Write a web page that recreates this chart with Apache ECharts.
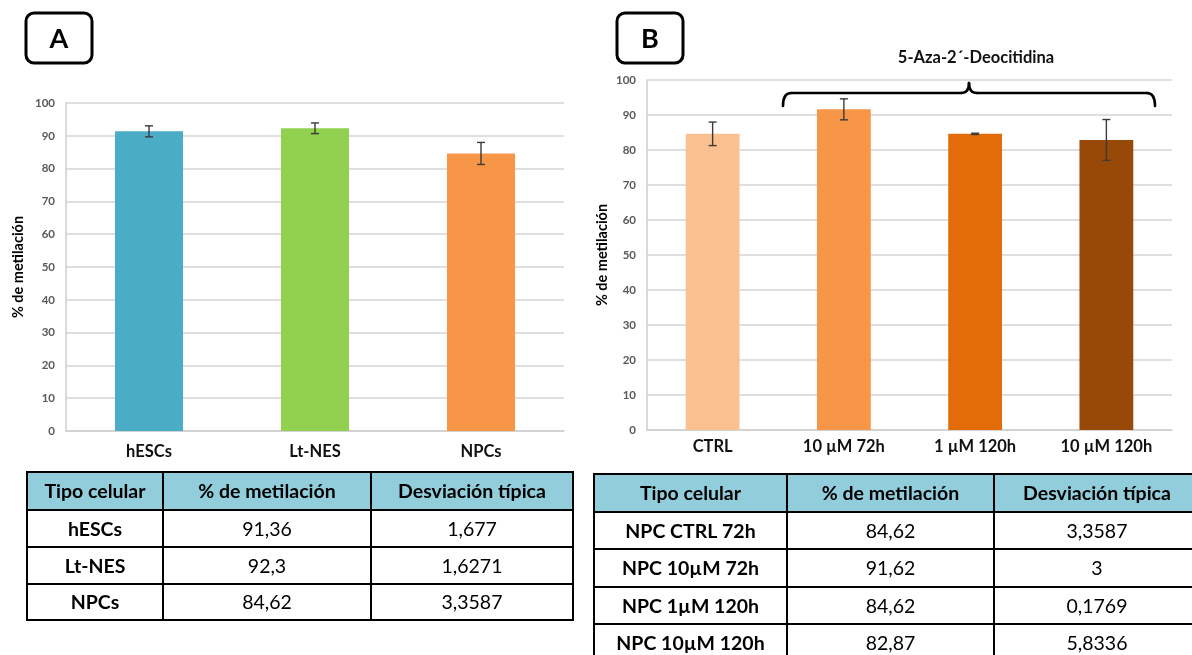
<!DOCTYPE html>
<html>
<head>
<meta charset="utf-8">
<script src="https://cdn.jsdelivr.net/npm/echarts@6/dist/echarts.min.js"></script>
<style>
  html, body { margin: 0; padding: 0; background: #fff; }
  #chart { width: 1192px; height: 655px; }
</style>
</head>
<body>
<div id="chart"></div>
<script>
// Panel A: methylation by cell type
const categoriesA = ['hESCs', 'Lt-NES', 'NPCs'];
const valuesA = [91.36, 92.3, 84.62];
const sdA = [1.677, 1.6271, 3.3587];

// Panel B: NPCs treated with 5-Aza-2'-deoxycytidine
const categoriesB = ['CTRL', '10 µM 72h', '1 µM 120h', '10 µM 120h'];
const valuesB = [84.62, 91.62, 84.62, 82.87];
const sdB = [3.3587, 3, 0.1769, 5.8336];

// Table labels
const tableHeaders = ['Tipo celular', '% de metilación', 'Desviación típica'];
const rowLabelsA = ['hESCs', 'Lt-NES', 'NPCs'];
const rowLabelsB = ['NPC CTRL 72h', 'NPC 10µM 72h', 'NPC 1µM 120h', 'NPC 10µM 120h'];
const treatmentLabel = '5-Aza-2´-Deocitidina';
const yAxisTitle = '% de metilación';
const panelLetters = ['A', 'B'];

// Y axis range
const yMin = 0, yMax = 100, yStep = 10;

// Bar colours
const paletteA = ['#4BACC6', '#92D050', '#F79646'];
const paletteB = ['#FAC090', '#F79646', '#E36C09', '#984807'];

const FONT = 'Lato, "Open Sans", sans-serif';
const fmt = v => String(v).replace('.', ',');

const chart = echarts.init(document.getElementById('chart'), null, { renderer: 'canvas' });

function yAxisCfg(gridIndex, nameGap) {
  return {
    type: 'value', gridIndex, min: yMin, max: yMax, interval: yStep,
    name: yAxisTitle, nameLocation: 'middle', nameRotate: 90, nameGap,
    nameTextStyle: { fontFamily: FONT, fontWeight: 'bold', fontSize: 14.5, color: '#000' },
    axisLine: { show: true, lineStyle: { color: '#CFCFCF', width: 1.5 } },
    axisTick: { show: false },
    axisLabel: { fontFamily: FONT, fontWeight: 'bold', fontSize: 11.5, color: '#595959', margin: 11 },
    splitLine: { lineStyle: { color: '#D4D4D4', width: 1.5 } }
  };
}
function xAxisCfg(gridIndex, cats, margin) {
  return {
    type: 'category', gridIndex, data: cats,
    axisLine: { lineStyle: { color: '#CFCFCF', width: 1.5 } },
    axisTick: { show: false },
    axisLabel: { fontFamily: FONT, fontWeight: 'bold', fontSize: 16.5, color: '#111', margin }
  };
}
function barSeries(idx, values, palette) {
  return {
    type: 'bar', xAxisIndex: idx, yAxisIndex: idx, barWidth: '41%',
    data: values.map((v, i) => ({ value: v, itemStyle: { color: palette[i] } })),
    silent: true
  };
}
function errorSeries(idx, values, sds) {
  return {
    type: 'custom', xAxisIndex: idx, yAxisIndex: idx, silent: true, z: 5,
    data: values.map((v, i) => [i, v - sds[i], v + sds[i]]),
    renderItem: function (params, api) {
      const lo = api.coord([api.value(0), api.value(1)]);
      const hi = api.coord([api.value(0), api.value(2)]);
      const x = lo[0], w = 4;
      const st = { stroke: '#3A3A3A', lineWidth: 1.4 };
      return {
        type: 'group',
        children: [
          { type: 'line', shape: { x1: x, y1: lo[1], x2: x, y2: hi[1] }, style: st },
          { type: 'line', shape: { x1: x - w, y1: lo[1], x2: x + w, y2: lo[1] }, style: st },
          { type: 'line', shape: { x1: x - w, y1: hi[1], x2: x + w, y2: hi[1] }, style: st }
        ]
      };
    }
  };
}

// Table drawn with graphic elements
function tableGraphic(cols, rows, headers, body) {
  const els = [];
  const last = cols.length - 1;
  els.push({ type: 'rect', shape: { x: cols[0], y: rows[0], width: cols[last] - cols[0], height: rows[1] - rows[0] },
             style: { fill: '#92CDDC' } });
  const txt = (s, x, y, bold) => ({
    type: 'text', x, y,
    style: { text: s, font: (bold ? 'bold ' : '') + '19.5px ' + FONT, fill: '#000',
             align: 'center', verticalAlign: 'middle', textAlign: 'center', textVerticalAlign: 'middle' }
  });
  headers.forEach((h, c) => els.push(txt(h, (cols[c] + cols[c + 1]) / 2, (rows[0] + rows[1]) / 2 + 1, true)));
  body.forEach((row, r) => row.forEach((cell, c) =>
    els.push(txt(cell, (cols[c] + cols[c + 1]) / 2, (rows[r + 1] + rows[r + 2]) / 2 + 1, c === 0))));
  rows.forEach(y => els.push({ type: 'line', shape: { x1: cols[0] - 1, y1: y, x2: cols[last] + 1, y2: y },
                               style: { stroke: '#000', lineWidth: 2 } }));
  cols.forEach(x => els.push({ type: 'line', shape: { x1: x, y1: rows[0], x2: x, y2: rows[rows.length - 1] },
                               style: { stroke: '#000', lineWidth: 2 } }));
  return els;
}

function letterBox(x, y, letter) {
  return [
    { type: 'rect', shape: { x, y, width: 66, height: 50, r: 8 },
      style: { fill: '#fff', stroke: '#000', lineWidth: 3 } },
    { type: 'text', x: x + 33, y: y + 26,
      style: { text: letter, font: 'bold 27px ' + FONT, fill: '#000',
               align: 'center', verticalAlign: 'middle', textAlign: 'center', textVerticalAlign: 'middle' } }
  ];
}

// Curly bracket spanning the treated groups
function bracket(x0, x1, yTop, yEnd, yTip) {
  const xm = (x0 + x1) / 2, r = 8;
  const st = { fill: null, stroke: '#000', lineWidth: 2.6, lineCap: 'round' };
  return [
    { type: 'bezierCurve', shape: { x1: x0, y1: yEnd, cpx1: x0, cpy1: yTop, x2: x0 + r, y2: yTop }, style: st },
    { type: 'line', shape: { x1: x0 + r, y1: yTop, x2: xm - r, y2: yTop }, style: st },
    { type: 'bezierCurve', shape: { x1: xm - r, y1: yTop, cpx1: xm, cpy1: yTop, x2: xm, y2: yTip }, style: st },
    { type: 'bezierCurve', shape: { x1: xm, y1: yTip, cpx1: xm, cpy1: yTop, x2: xm + r, y2: yTop }, style: st },
    { type: 'line', shape: { x1: xm + r, y1: yTop, x2: x1 - r, y2: yTop }, style: st },
    { type: 'bezierCurve', shape: { x1: x1 - r, y1: yTop, cpx1: x1, cpy1: yTop, x2: x1, y2: yEnd }, style: st }
  ];
}

const bodyA = rowLabelsA.map((l, i) => [l, fmt(valuesA[i]), fmt(sdA[i])]);
const bodyB = rowLabelsB.map((l, i) => [l, fmt(valuesB[i]), fmt(sdB[i])]);

const graphics = [].concat(
  letterBox(26, 13, panelLetters[0]),
  letterBox(617, 13, panelLetters[1]),
  [
    { type: 'text', x: 976, y: 58,
      style: { text: treatmentLabel, font: 'bold 16.5px ' + FONT, fill: '#111',
               align: 'center', verticalAlign: 'middle', textAlign: 'center', textVerticalAlign: 'middle' } }
  ],
  bracket(783, 1155, 93, 106, 83),
  tableGraphic([27, 163, 371, 573], [472, 510, 547, 584, 620], tableHeaders, bodyA),
  tableGraphic([594, 787, 994, 1200], [474, 512, 549, 587, 624, 662], tableHeaders, bodyB)
);

chart.setOption({
  animation: false,
  grid: [
    { left: 66, top: 103, width: 498, height: 328 },
    { left: 647, top: 80, width: 525, height: 350 }
  ],
  xAxis: [xAxisCfg(0, categoriesA, 12), xAxisCfg(1, categoriesB, 8)],
  yAxis: [yAxisCfg(0, 40), yAxisCfg(1, 37)],
  series: [
    barSeries(0, valuesA, paletteA),
    errorSeries(0, valuesA, sdA),
    barSeries(1, valuesB, paletteB),
    errorSeries(1, valuesB, sdB)
  ],
  graphic: { elements: graphics }
});
</script>
</body>
</html>
